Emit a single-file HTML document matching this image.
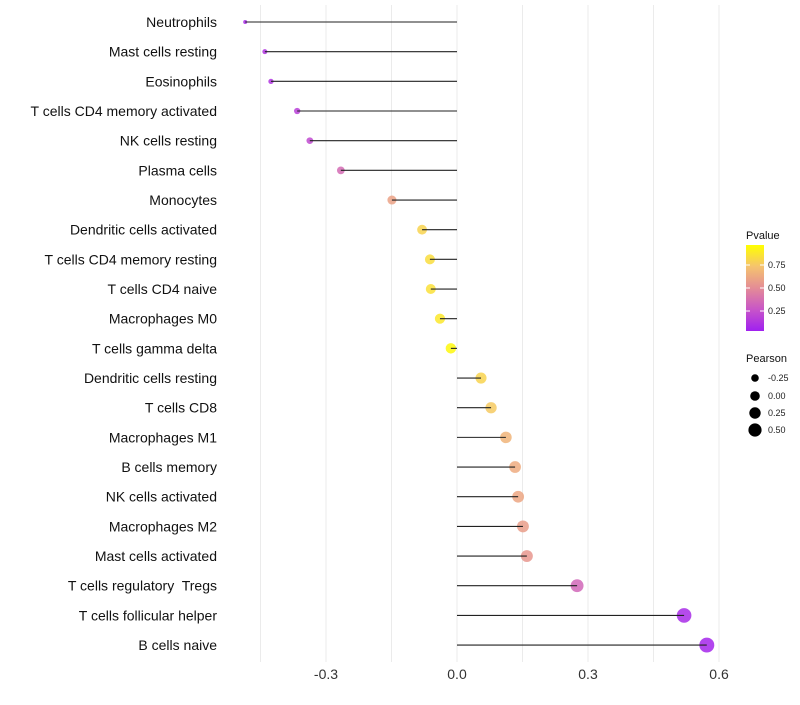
<!DOCTYPE html>
<html><head><meta charset="utf-8"><style>
body{margin:0;background:#fff;font-family:"Liberation Sans",sans-serif}
svg text{font-family:"Liberation Sans",sans-serif;white-space:pre}
</style></head><body>
<svg id="chart" width="800" height="700"></svg>
<script>
const categories=["Neutrophils","Mast cells resting","Eosinophils","T cells CD4 memory activated","NK cells resting","Plasma cells","Monocytes","Dendritic cells activated","T cells CD4 memory resting","T cells CD4 naive","Macrophages M0","T cells gamma delta","Dendritic cells resting","T cells CD8","Macrophages M1","B cells memory","NK cells activated","Macrophages M2","Mast cells activated","T cells regulatory  Tregs","T cells follicular helper","B cells naive"];
const pearson=[-0.485,-0.44,-0.426,-0.366,-0.337,-0.266,-0.149,-0.08,-0.062,-0.06,-0.039,-0.014,0.055,0.078,0.112,0.133,0.14,0.151,0.16,0.275,0.52,0.572];
const pvalue=[0.05,0.1,0.1,0.15,0.2,0.35,0.6,0.82,0.86,0.87,0.9,0.97,0.82,0.78,0.68,0.64,0.62,0.58,0.55,0.33,0.05,0.03];
const xTicks=[-0.3,0,0.3,0.6];
const xTickLabels=["-0.3","0.0","0.3","0.6"];
const xGrid=[-0.45,-0.3,-0.15,0,0.15,0.3,0.45,0.6];
const ns="http://www.w3.org/2000/svg";
const svg=document.getElementById('chart');
const x=v=>457+v*436.7;
const y=i=>22+i*29.67;
const rScale=v=>Math.sqrt(Math.max(2,27.9+49.2*v));
const stops=[[160,32,240],[200,85,200],[228,140,150],[245,195,110],[255,255,0]];
function col(p){p=Math.max(0,Math.min(1,p));const s=p*4,i=Math.min(3,Math.floor(s)),t=s-i;const a=stops[i],b=stops[i+1];return `rgb(${a.map((c,k)=>Math.round(c+(b[k]-c)*t)).join(',')})`;}
function el(t,at){const e=document.createElementNS(ns,t);for(const k in at)e.setAttribute(k,at[k]);svg.appendChild(e);return e;}
xGrid.forEach(g=>{const l=el('line',{x1:x(g),x2:x(g),y1:5,y2:662,stroke:'#ebebeb','stroke-width':1});

});
xTicks.forEach((t,i)=>{const tx=el('text',{x:x(t),y:679,'text-anchor':'middle','font-size':14,fill:'#333'});tx.textContent=xTickLabels[i];

});
categories.forEach((c,i)=>{
 const tx=el('text',{x:217,y:y(i)+5,'text-anchor':'end','font-size':14,fill:'#111'});tx.textContent=c;
 
 
 const pt=el('circle',{cx:x(pearson[i]),cy:y(i),r:rScale(pearson[i]),fill:col(pvalue[i]),'fill-opacity':0.85});
 
 
 const ln=el('line',{x1:x(pearson[i]),x2:x(0),y1:y(i),y2:y(i),stroke:'#222','stroke-width':1.1});
 
 
});
const defs=el('defs',{});
const lg=document.createElementNS(ns,'linearGradient');lg.setAttribute('id','pg');lg.setAttribute('x1','0');lg.setAttribute('y1','1');lg.setAttribute('x2','0');lg.setAttribute('y2','0');
stops.forEach((s,i)=>{const st=document.createElementNS(ns,'stop');st.setAttribute('offset',i/4);st.setAttribute('stop-color',`rgb(${s.join(',')})`);lg.appendChild(st);});
defs.appendChild(lg);
const lt=el('text',{x:746,y:239,'font-size':11,fill:'#111'});lt.textContent='Pvalue';


const bar=el('rect',{x:746,y:245,width:18,height:86,fill:'url(#pg)'});


[[0.75,265],[0.5,288],[0.25,311]].forEach(([v,yy])=>{
 el('line',{x1:746,x2:750,y1:yy,y2:yy,stroke:'#fff'});el('line',{x1:760,x2:764,y1:yy,y2:yy,stroke:'#fff'});
 const t=el('text',{x:768,y:yy+3,'font-size':9,fill:'#222'});t.textContent=v.toFixed(2);
 
 });
const pt2=el('text',{x:746,y:362,'font-size':11,fill:'#111'});pt2.textContent='Pearson';


[["-0.25",378,3.8],["0.00",396,4.8],["0.25",413,5.7],["0.50",430,6.6]].forEach(([l,yy,r])=>{
 const c=el('circle',{cx:755,cy:yy,r:r,fill:'#000'});
 
 
 const t=el('text',{x:768,y:yy+3,'font-size':9,fill:'#222'});t.textContent=l;
 
 });
</script>
</body></html>
